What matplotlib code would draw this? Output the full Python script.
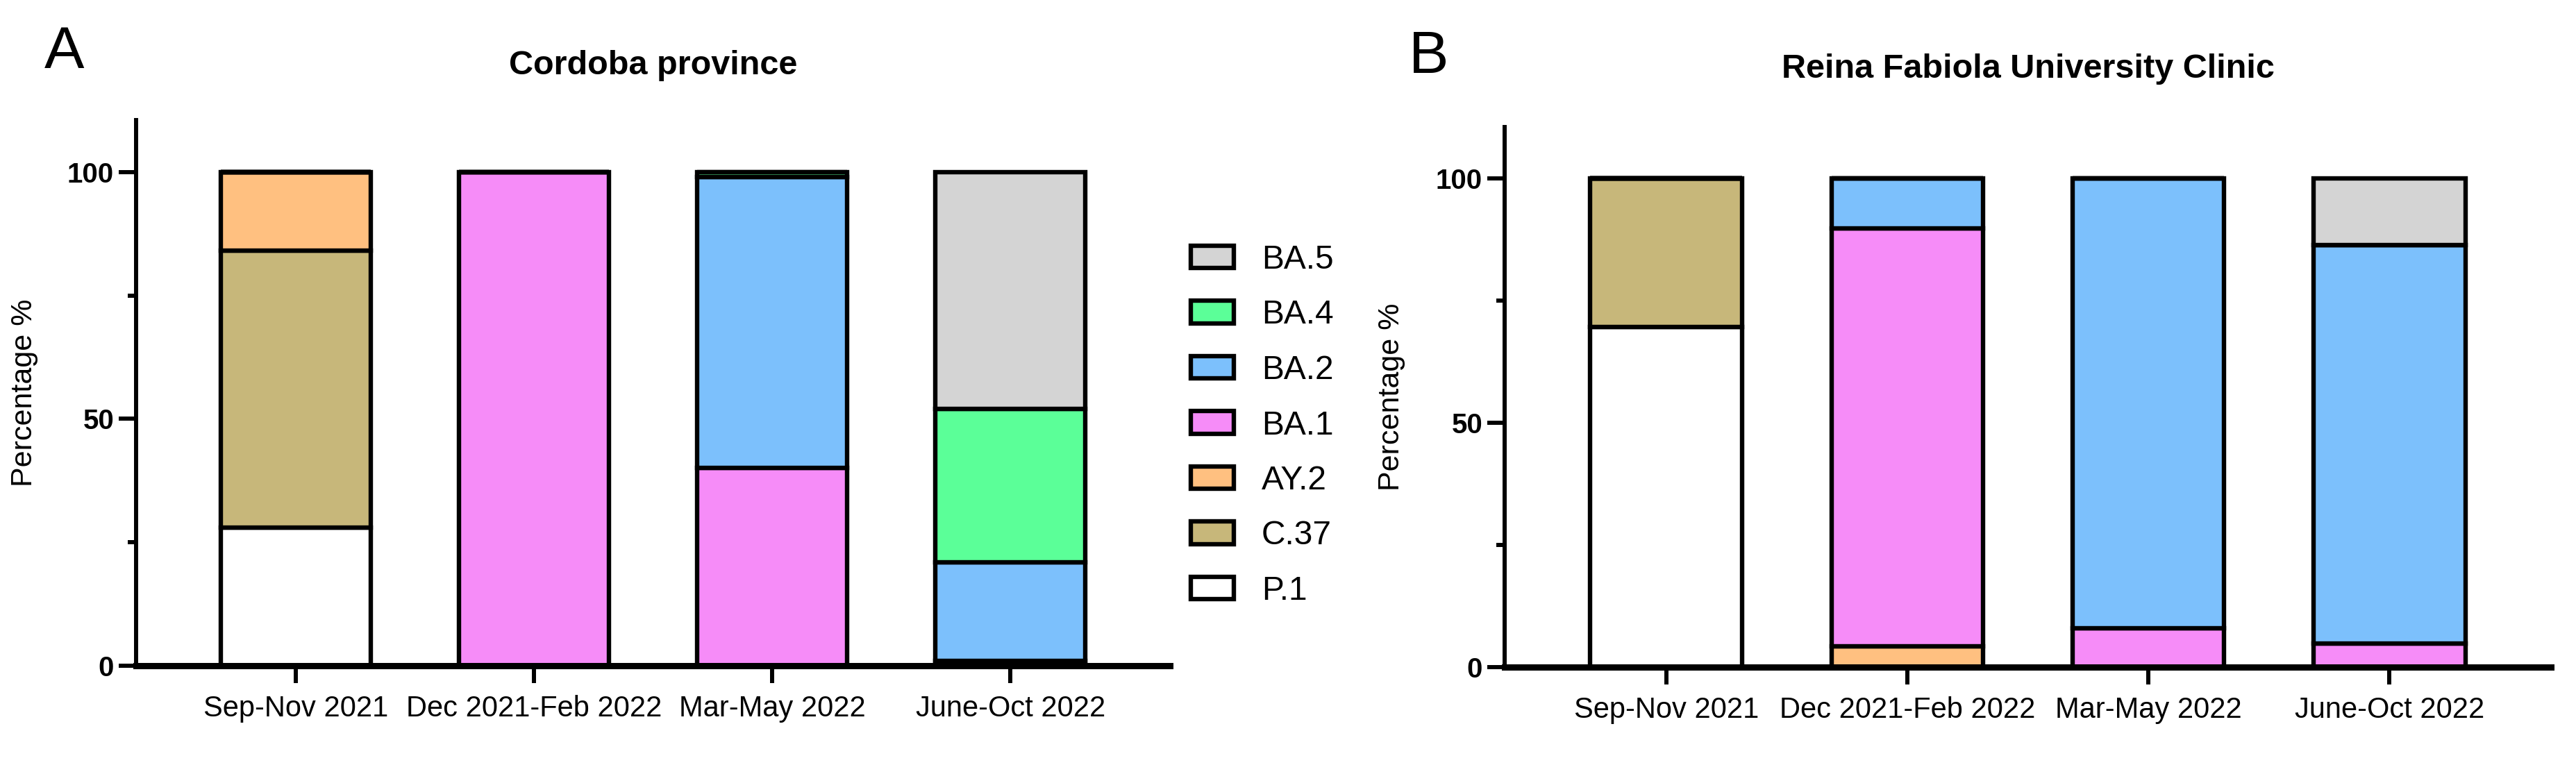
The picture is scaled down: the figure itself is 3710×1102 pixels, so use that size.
import matplotlib
matplotlib.use('Agg')
import matplotlib.pyplot as plt
import numpy as np
from matplotlib.ticker import MultipleLocator

# categories and lineages
periods = ['Sep-Nov 2021', 'Dec 2021-Feb 2022', 'Mar-May 2022', 'June-Oct 2022']
lineages = ['P.1', 'C.37', 'AY.2', 'BA.1', 'BA.2', 'BA.4', 'BA.5']
colors = ['#FFFFFF', '#C7B77A', '#FFC080', '#F68CF8', '#7CC0FC', '#5BFF98', '#D4D4D4']

# percentages per period, panel A (Cordoba province)
cordoba_p1 = [28, 0, 0, 0]
cordoba_c37 = [56, 0, 0, 0]
cordoba_ay2 = [16, 0, 0, 0]
cordoba_ba1 = [0, 100, 40, 1.0]
cordoba_ba2 = [0, 0, 59, 20]
cordoba_ba4 = [0, 0, 1.0, 31]
cordoba_ba5 = [0, 0, 0, 48]

# percentages per period, panel B (Reina Fabiola University Clinic)
clinic_p1 = [69.6, 0, 0, 0]
clinic_c37 = [30.4, 0, 0, 0]
clinic_ay2 = [0, 4.3, 0, 0]
clinic_ba1 = [0, 85.5, 8, 4.9]
clinic_ba2 = [0, 10.2, 92, 81.5]
clinic_ba4 = [0, 0, 0, 0]
clinic_ba5 = [0, 0, 0, 13.6]

cordoba = [cordoba_p1, cordoba_c37, cordoba_ay2, cordoba_ba1,
           cordoba_ba2, cordoba_ba4, cordoba_ba5]
clinic = [clinic_p1, clinic_c37, clinic_ay2, clinic_ba1,
          clinic_ba2, clinic_ba4, clinic_ba5]

plt.rcParams['font.family'] = ['Liberation Sans', 'DejaVu Sans']

W, H = 3710, 1102
fig = plt.figure(figsize=(W / 100, H / 100), dpi=100)


def draw_panel(rect, series, title, letter, letter_pos, title_y):
    ax = fig.add_axes(rect)
    x = np.arange(len(periods))
    bottom = np.zeros(len(periods))
    handles = []
    for name, vals, col in zip(lineages, series, colors):
        vals = np.array(vals, dtype=float)
        bars = ax.bar(x, vals, 0.63, bottom=bottom, color=col,
                      edgecolor='black', linewidth=4.6, label=name, zorder=3)
        handles.append(bars)
        bottom += vals
    ax.set_xlim(-0.67, 3.67)
    ax.set_ylim(0, 110.5)
    ax.set_xticks(x)
    ax.set_xticklabels(periods, fontsize=30)
    ax.set_yticks([0, 50, 100])
    ax.yaxis.set_minor_locator(MultipleLocator(25))
    for lab in ax.get_yticklabels():
        lab.set_fontweight('bold')
        lab.set_fontsize(29)
    ax.tick_params(axis='x', length=18, width=4.3, pad=12, direction='out')
    ax.tick_params(axis='y', which='major', length=18, width=4.3, pad=5)
    ax.tick_params(axis='y', which='minor', length=9, width=4.3)
    ax.spines['top'].set_visible(False)
    ax.spines['right'].set_visible(False)
    ax.spines['left'].set_linewidth(4.3)
    ax.spines['bottom'].set_linewidth(6.5)
    ax.spines['bottom'].set_zorder(4)
    ax.set_ylabel('Percentage %', fontsize=31)
    ax.yaxis.set_label_coords(-0.095, 0.5)
    ax.text(0.5, title_y, title, transform=ax.transAxes, ha='center',
            va='baseline', fontsize=35, fontweight='bold')
    fig.text(letter_pos[0] / W, 1 - letter_pos[1] / H, letter, fontsize=62,
             ha='left', va='baseline')
    return ax, handles


ax_a, handles = draw_panel([196 / W, 1 - 959 / H, 1489 / W, 786 / H],
                           cordoba, 'Cordoba province', 'A', (64, 98), 1.0836)
ax_b, _ = draw_panel([2167 / W, 1 - 961 / H, 1507 / W, 778 / H],
                     clinic, 'Reina Fabiola University Clinic', 'B', (2029, 105), 1.0913)

fig.legend(handles[::-1], lineages[::-1], loc='upper left',
           bbox_to_anchor=(1715 / W, 1 - 352 / H), frameon=False, fontsize=34.5,
           handlelength=1.3, handleheight=0.67, labelspacing=0.72,
           handletextpad=0.83, borderpad=0, borderaxespad=0)

fig.savefig('out.png', dpi=100)
